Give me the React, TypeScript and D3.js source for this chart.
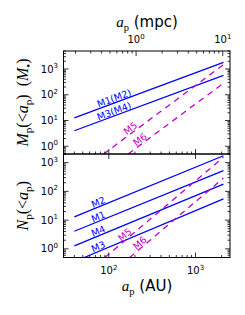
import React from 'react';
import * as d3 from 'd3';

// upper panel: cumulative mass inside a_p
const topNames = ['M1(M2)', 'M3(M4)', 'M5', 'M6'];
const topStartAU = [40, 40, 87, 167];
const topStartVal = [12.7, 4.0, 0.5, 0.5];
const topEndAU = [2100, 2100, 2100, 2100];
const topEndVal = [1800, 560, 1470, 280];
const topLabelAU = [120, 120, 191, 246];

// lower panel: cumulative number inside a_p
const botNames = ['M2', 'M1', 'M4', 'M3', 'M5', 'M6'];
const botStartAU = [40, 40, 40, 52, 90, 174];
const botStartVal = [13, 4.1, 1.27, 0.5, 0.5, 0.5];
const botEndAU = [2100, 2100, 2100, 2100, 2100, 2100];
const botEndVal = [1740, 525, 180, 55, 1540, 290];
const botLabelAU = [79, 79, 79, 79, 165, 246];

const xDomain = [30, 2500];
const topYDomain = [0.5, 5000];
const botYDomain = [0.5, 2000];
const AU_PER_MPC = 206.265;

const W = 245, H = 315;
const left = 63.5, right = 230;
const top0 = 51, mid = 154, bottom = 257.5;

const dashedSet = new Set(['M5', 'M6']);
const BLUE = '#0000ff';
const MAG = '#c000c0';
const SANS = 'DejaVu Sans';
const SERIF = 'Liberation Serif';

const x = d3.scaleLog().domain(xDomain).range([left, right]);
const xMpc = d3.scaleLog().domain([xDomain[0] / AU_PER_MPC, xDomain[1] / AU_PER_MPC]).range([left, right]);

function logTicks(lo: number, hi: number) {
  const out: { v: number; major: boolean; p: number }[] = [];
  for (let p = Math.floor(Math.log10(lo)); p <= Math.ceil(Math.log10(hi)); p++) {
    for (let k = 1; k < 10; k++) {
      const v = k * Math.pow(10, p);
      if (v >= lo * 0.9999 && v <= hi * 1.0001) out.push({ v, major: k === 1, p });
    }
  }
  return out;
}

type Part = { t: string; it?: boolean; sub?: boolean; sans?: boolean };

function MathText({ parts, size, x, y, rotate = 0 }: { parts: Part[]; size: number; x: number; y: number; rotate?: number }) {
  let prev = 0;
  const shift = size * 0.28;
  return (
    <text x={0} y={0} textAnchor="middle" transform={`translate(${x},${y}) rotate(${rotate})`} style={{ whiteSpace: 'pre' }} fill="#000">
      {parts.map((p, i) => {
        const cur = p.sub ? shift : 0;
        const dy = cur - prev;
        prev = cur;
        return (
          <tspan key={i} dy={dy} fontFamily={p.sans ? SANS : SERIF} fontStyle={p.it ? 'italic' : 'normal'}
            fontSize={p.sub ? size * 0.7 : size}>{p.t}</tspan>
        );
      })}
    </text>
  );
}

function Pow({ x, y, p, anchor }: { x: number; y: number; p: number; anchor: string }) {
  return (
    <text x={x} y={y} textAnchor={anchor} fontFamily={SANS} fontSize={10} fill="#000">
      <tspan>10</tspan>
      <tspan dy={-4.5} fontSize={7}>{p}</tspan>
    </text>
  );
}

function Panel({ id, names, sa, sv, ea, ev, la, yDomain, y0, y1, isTop }: any) {
  const y = d3.scaleLog().domain(yDomain).range([y1, y0]);
  const line = d3.line<[number, number]>().x(d => x(d[0])).y(d => y(d[1]));
  const yt = logTicks(yDomain[0], yDomain[1]);
  const xt = logTicks(xDomain[0], xDomain[1]);
  return (
    <g>
      <defs>
        <clipPath id={id}><rect x={left} y={y0} width={right - left} height={y1 - y0} /></clipPath>
      </defs>
      <g clipPath={`url(#${id})`}>
        {names.map((n: string, i: number) => (
          <path key={n} d={line([[sa[i], sv[i]], [ea[i], ev[i]]]) || ''} fill="none"
            stroke={dashedSet.has(n) ? MAG : BLUE} strokeWidth={1.3}
            strokeDasharray={dashedSet.has(n) ? '6,5' : undefined} />
        ))}
      </g>
      {names.map((n: string, i: number) => {
        const x0 = x(sa[i]), yy0 = y(sv[i]), x1 = x(ea[i]), yy1 = y(ev[i]);
        const ang = Math.atan2(yy1 - yy0, x1 - x0) * 180 / Math.PI;
        const px = x(la[i]);
        const py = yy0 + (yy1 - yy0) * (px - x0) / (x1 - x0);
        return (
          <text key={'l' + n} x={0} y={-1.2} transform={`translate(${px},${py}) rotate(${ang})`} textAnchor="middle"
            fontFamily={SANS} fontSize={9.5} fill={dashedSet.has(n) ? MAG : BLUE}>{n}</text>
        );
      })}
      {yt.map(t => {
        const len = t.major ? 5 : 2.5;
        const yy = y(t.v);
        return (
          <g key={'y' + t.v}>
            <line x1={left} x2={left + len} y1={yy} y2={yy} stroke="#000" strokeWidth={0.8} />
            <line x1={right} x2={right - len} y1={yy} y2={yy} stroke="#000" strokeWidth={0.8} />
            {t.major && <Pow x={58} y={yy + 3.6} p={t.p} anchor="end" />}
          </g>
        );
      })}
      {xt.map(t => {
        const xx = x(t.v);
        const len = t.major ? 5 : 2.5;
        if (isTop) {
          return <line key={'xb' + t.v} x1={xx} x2={xx} y1={y1} y2={y1 - len} stroke="#000" strokeWidth={0.8} />;
        }
        return (
          <g key={'xb' + t.v}>
            <line x1={xx} x2={xx} y1={y1} y2={y1 - len} stroke="#000" strokeWidth={0.8} />
            {t.major && <line x1={xx} x2={xx} y1={y0} y2={y0 + 5} stroke="#000" strokeWidth={0.8} />}
            {t.major && <Pow x={xx} y={274} p={t.p} anchor="middle" />}
          </g>
        );
      })}
      {isTop && logTicks(xDomain[0] / AU_PER_MPC, xDomain[1] / AU_PER_MPC).map(t => {
        const xx = xMpc(t.v);
        const len = t.major ? 5 : 2.5;
        return (
          <g key={'xt' + t.v}>
            <line x1={xx} x2={xx} y1={y0} y2={y0 + len} stroke="#000" strokeWidth={0.8} />
            {t.major && <Pow x={xx} y={43} p={t.p} anchor="middle" />}
          </g>
        );
      })}
      <rect x={left} y={y0} width={right - left} height={y1 - y0} fill="none" stroke="#000" strokeWidth={1} />
    </g>
  );
}

export default function App() {
  return (
    <svg width={W} height={H} style={{ position: 'absolute', left: 0, top: 0, background: '#fff' }}>
      <rect width={W} height={H} fill="#fff" />
      <Panel id="cTop" names={topNames} sa={topStartAU} sv={topStartVal} ea={topEndAU} ev={topEndVal}
        la={topLabelAU} yDomain={topYDomain} y0={top0} y1={mid} isTop />
      <Panel id="cBot" names={botNames} sa={botStartAU} sv={botStartVal} ea={botEndAU} ev={botEndVal}
        la={botLabelAU} yDomain={botYDomain} y0={mid} y1={bottom} isTop={false} />
      <MathText x={147} y={27} size={15}
        parts={[{ t: 'a', it: true }, { t: 'p', sub: true }, { t: ' (mpc)', sans: true }]} />
      <MathText x={147} y={291} size={15}
        parts={[{ t: 'a', it: true }, { t: 'p', sub: true }, { t: ' (AU)', sans: true }]} />
      <MathText x={28} y={(top0 + mid) / 2} size={16} rotate={-90}
        parts={[{ t: 'M', it: true }, { t: 'p', sub: true }, { t: '(<' }, { t: 'a', it: true }, { t: 'p', sub: true },
          { t: ')  (' }, { t: 'M', it: true }, { t: '•', sub: true }, { t: ')' }]} />
      <MathText x={28} y={(mid + bottom) / 2} size={16} rotate={-90}
        parts={[{ t: 'N', it: true }, { t: 'p', sub: true }, { t: '(<' }, { t: 'a', it: true }, { t: 'p', sub: true }, { t: ')' }]} />
    </svg>
  );
}
